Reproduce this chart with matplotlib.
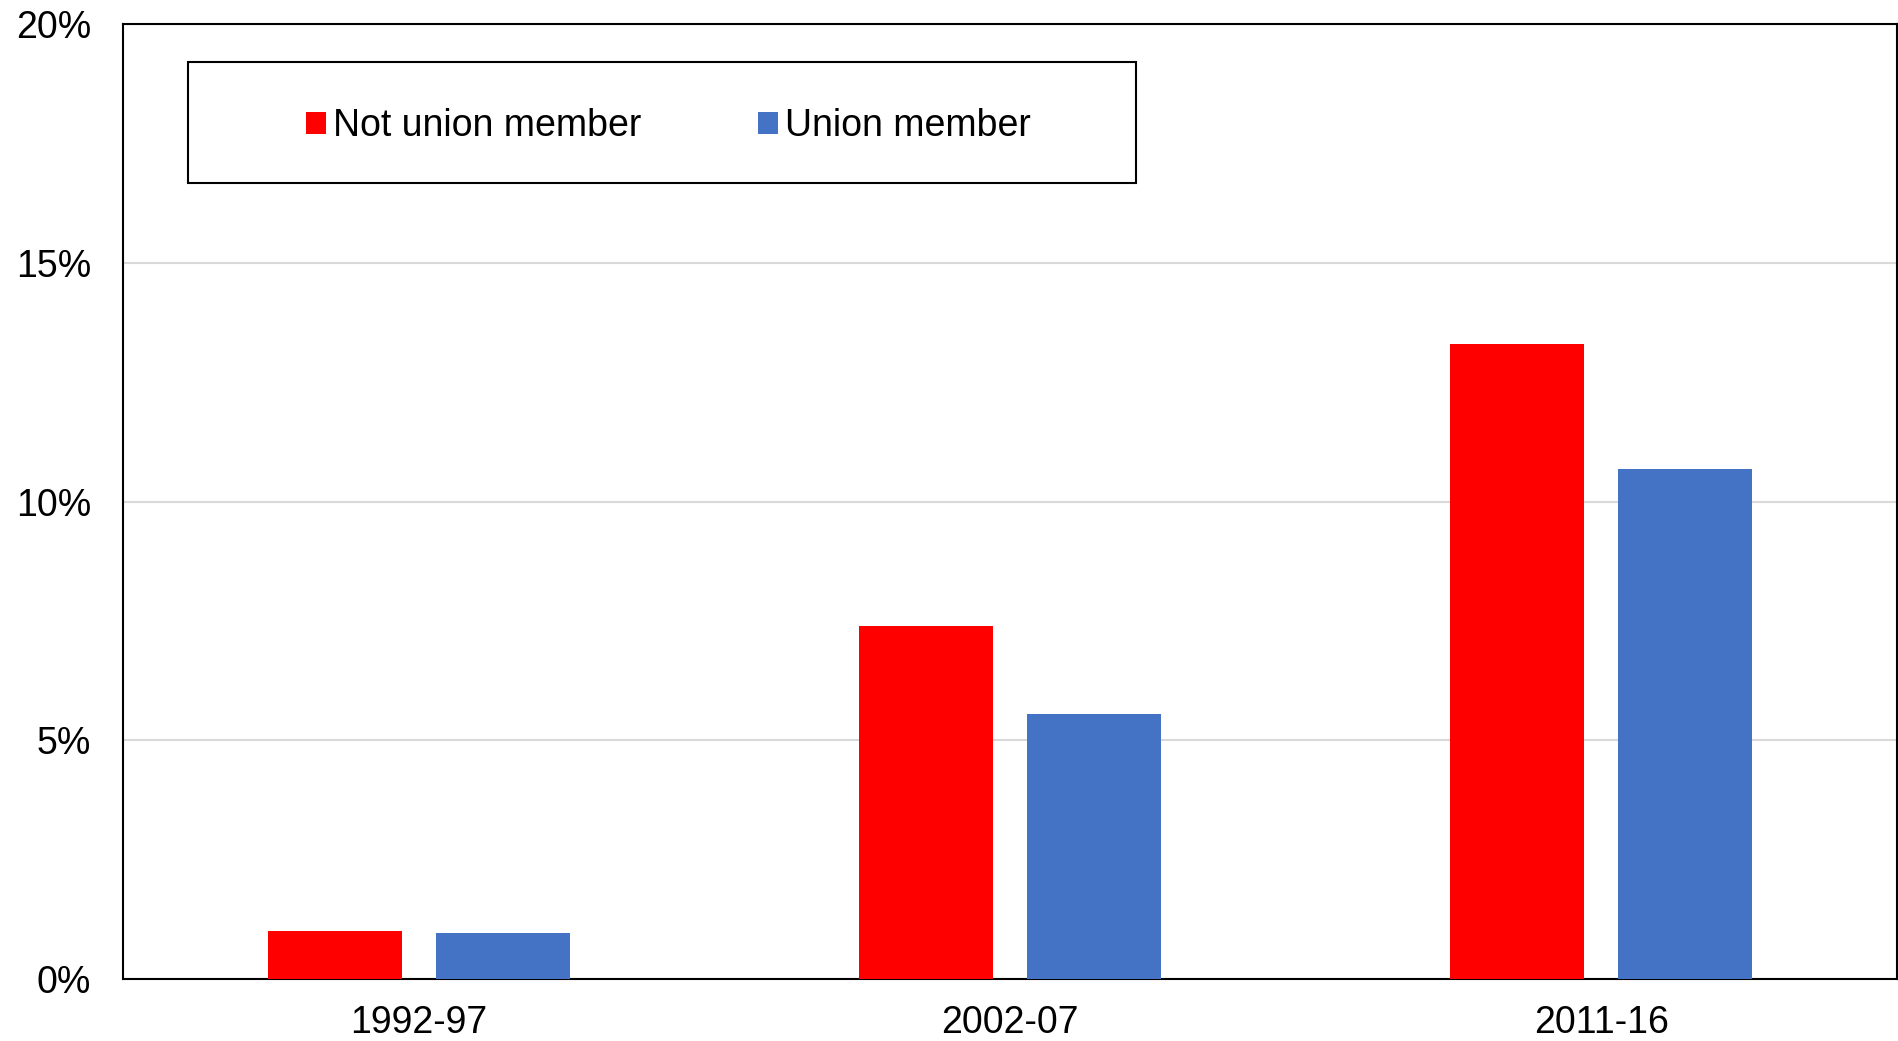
import matplotlib

matplotlib.use("Agg")
import matplotlib.pyplot as plt  # noqa: E402
import numpy as np  # noqa: E402
from matplotlib.patches import Patch, Rectangle  # noqa: E402

periods = ["1992-97", "2002-07", "2011-16"]
not_union = [1.0, 7.4, 13.3]
union = [0.96, 5.56, 10.68]
series_names = ["Not union member", "Union member"]
colors = ["#ff0000", "#4472c4"]
y_ticks = [0, 5, 10, 15, 20]

plt.rcParams["font.family"] = ["Liberation Sans", "DejaVu Sans"]

W, H = 1899, 1041
fig = plt.figure(figsize=(W / 100, H / 100), dpi=100)
ax = fig.add_axes([123 / W, 62 / H, 1774 / W, 955 / H])

x = np.arange(len(periods))
bw = 0.227
off = 0.142
ax.bar(x - off, not_union, bw, color=colors[0], zorder=3)
ax.bar(x + off, union, bw, color=colors[1], zorder=3)

ax.set_xlim(-0.5, len(periods) - 0.5)
ax.set_ylim(0, 20)
ax.set_yticks(y_ticks)
ax.set_yticklabels([f"{v}%" for v in y_ticks])
ax.set_xticks(x)
ax.set_xticklabels(periods)
ax.tick_params(axis="both", length=0, labelsize=27)
ax.tick_params(axis="y", pad=23)
ax.tick_params(axis="x", pad=19)
ax.yaxis.grid(True, color="#d9d9d9", linewidth=1.5, zorder=0)
ax.set_axisbelow(True)
for s in ax.spines.values():
    s.set_color("black")
    s.set_linewidth(1.5)

# legend box drawn separately, legend itself frameless inside it
ax.add_patch(Rectangle((0.0366, 0.8335), 0.5342, 0.1265, transform=ax.transAxes,
                       fill=False, edgecolor="black", linewidth=1.5, zorder=5))
handles = [Patch(facecolor=c, edgecolor="none") for c in colors]
ax.legend(handles, series_names, ncol=2, frameon=False, fontsize=27,
          loc="center", bbox_to_anchor=(0.0366 + 0.5342 / 2 + 0.0038, 0.8335 + 0.1265 / 2 - 0.004),
          handlelength=0.53, handleheight=0.53, handletextpad=0.2, columnspacing=3.1,
          borderpad=0)

fig.savefig("out.png", dpi=100)
